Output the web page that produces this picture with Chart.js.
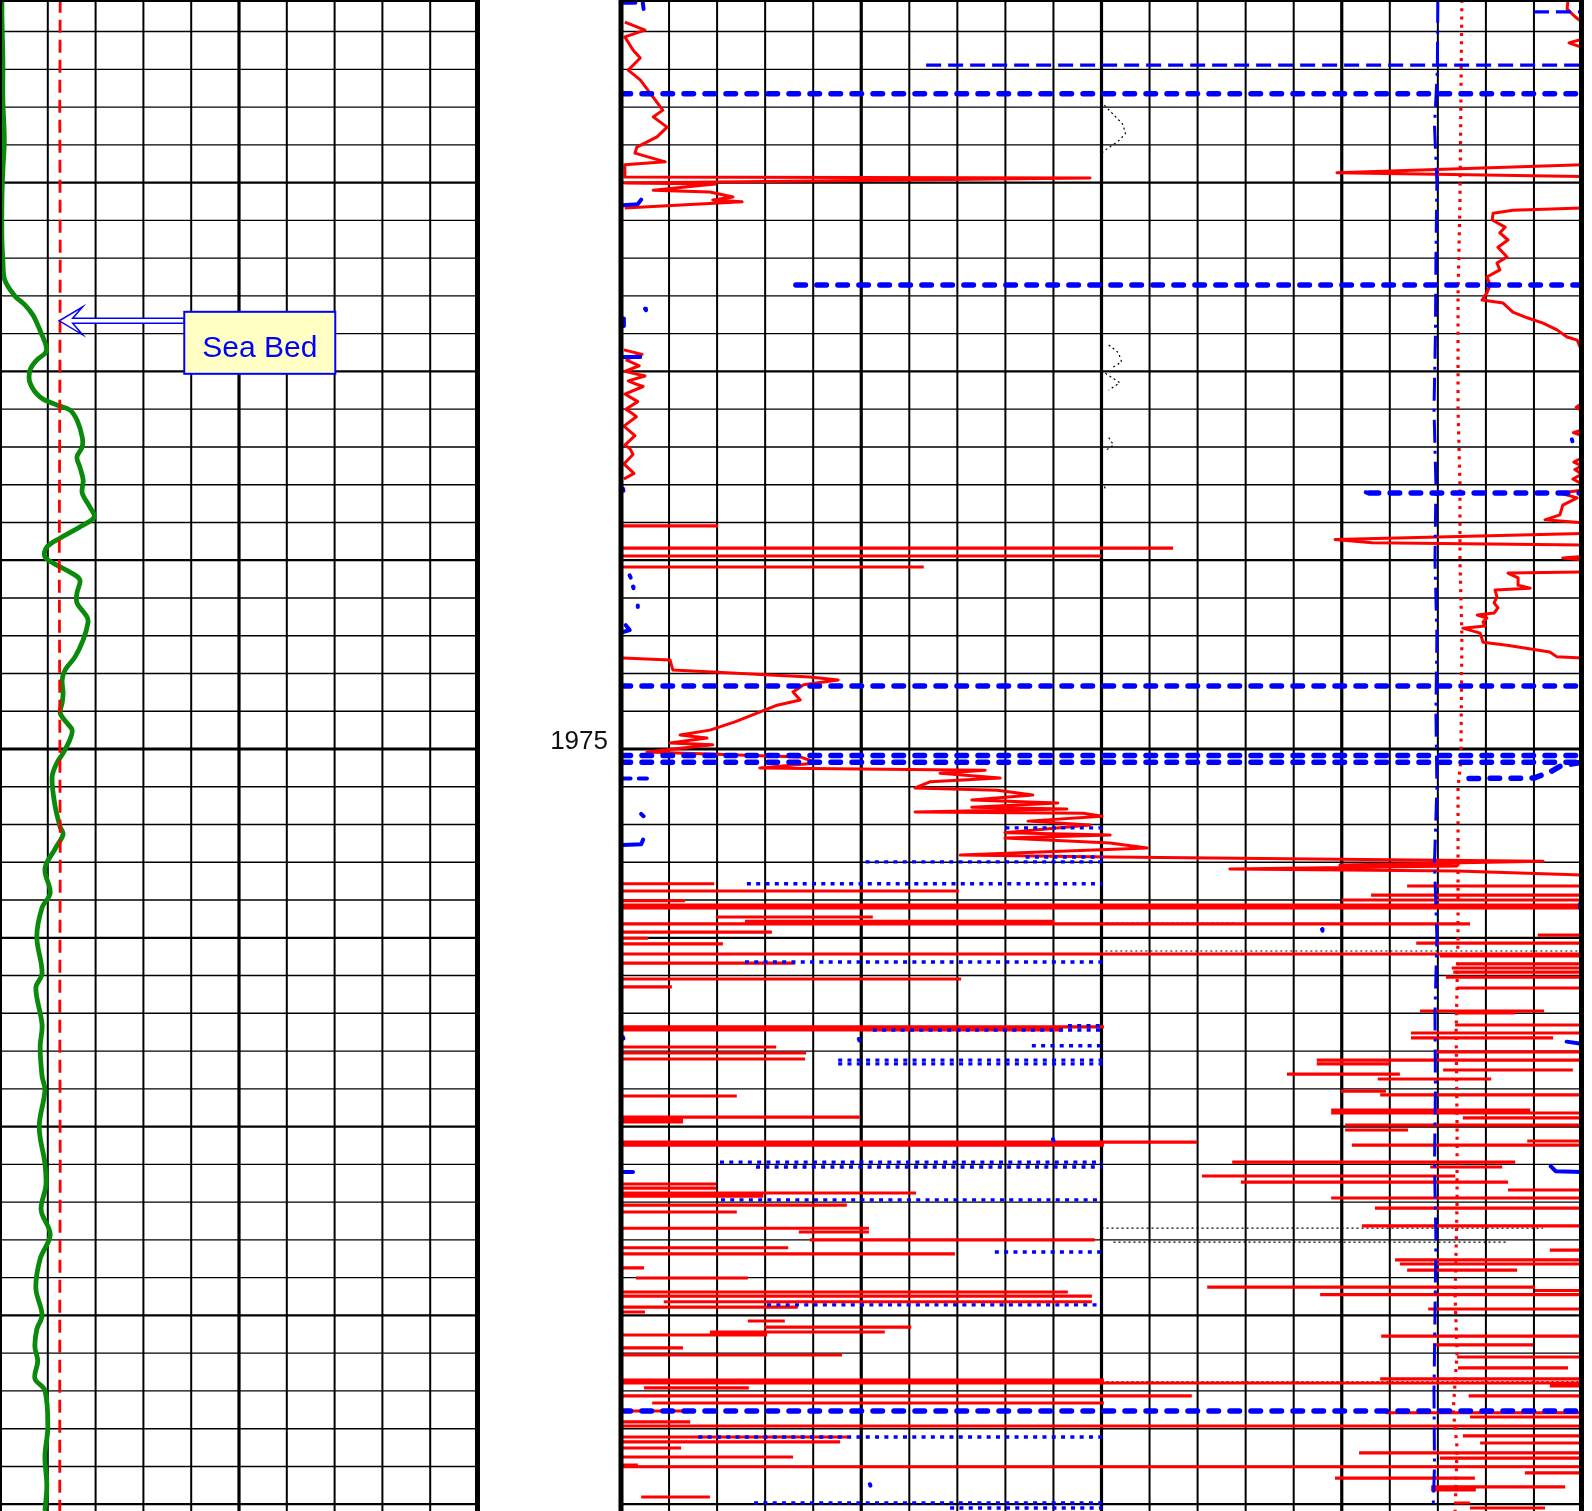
<!DOCTYPE html>
<html>
<head>
<meta charset="utf-8">
<title>Well log – 1955 to 1995 m</title>
<script src="https://cdn.jsdelivr.net/npm/chart.js@4.4.0/dist/chart.umd.min.js"></script>
<style>
  html, body { margin: 0; padding: 0; background: #fff; }
  body { width: 1592px; height: 1511px; position: relative; overflow: hidden; }
  canvas { position: absolute; top: 0; }
  #trackLeft { left: 0; }
  #trackRight { left: 480px; }
</style>
</head>
<body>
<canvas id="trackLeft" width="482" height="1511"></canvas>
<canvas id="trackRight" width="1107" height="1511"></canvas>
<script>
// ---- depth window (m) ----
const DEPTH_TOP = 1955.164;
const DEPTH_BASE = 1995.18;
const depthLabels = [1975];

// ---- left track (0–100) ----
// gamma ray: [depth, value]
const gammaRay = [
  [1955.16,0.4],[1955.56,0.4],[1956.75,0.6],[1957.81,0.6],[1958.87,0.9],[1959.67,0.6],[1960.46,0.4],
  [1961.52,0.4],[1962.05,0.6],[1962.58,1.0],[1963.00,3.1],[1963.24,5.2],[1963.51,6.9],[1963.77,7.9],
  [1964.04,8.8],[1964.30,9.6],[1964.49,9.6],[1964.70,7.7],[1964.96,6.3],[1965.31,6.3],[1965.68,8.4],
  [1965.89,11.9],[1966.02,14.6],[1966.29,16.1],[1966.74,17.2],[1967.00,17.2],[1967.27,16.1],[1967.53,16.7],
  [1967.88,17.4],[1968.22,17.2],[1968.59,18.8],[1968.86,19.7],[1969.12,16.7],[1969.41,12.6],[1969.65,9.8],
  [1969.91,9.4],[1970.13,11.9],[1970.31,14.6],[1970.52,16.7],[1970.87,16.1],[1971.13,16.1],[1971.50,18.2],
  [1971.66,18.4],[1972.11,17.4],[1972.56,15.7],[1972.91,13.6],[1973.17,13.0],[1973.52,13.2],[1973.78,13.0],
  [1974.05,12.6],[1974.31,14.0],[1974.50,15.1],[1974.76,14.6],[1975.11,13.2],[1975.37,11.9],[1975.74,10.9],
  [1976.49,11.5],[1977.07,12.6],[1977.26,13.2],[1977.65,11.5],[1978.17,9.4],[1978.81,10.5],[1979.20,8.8],
  [1979.97,7.7],[1980.94,8.8],[1981.33,7.5],[1982.30,8.8],[1982.88,8.4],[1983.66,8.8],[1984.04,9.4],
  [1985.01,8.2],[1985.98,9.4],[1986.56,9.6],[1987.21,8.6],[1987.86,10.5],[1988.50,8.4],[1989.28,7.5],
  [1989.99,8.8],[1990.37,7.7],[1990.83,7.3],[1991.21,7.9],[1991.67,7.3],[1991.99,9.4],[1992.96,10.0],
  [1993.73,9.4],[1994.51,9.8],[1995.18,9.4]
];
// reference curve (dashed red)
const leftReference = [
  [1955.16,12.6],[1958,12.5],[1962,12.6],[1966,12.5],[1970,12.4],[1974,12.5],
  [1978,12.6],[1982,12.5],[1986,12.6],[1990,12.5],[1995.18,12.5]
];
const seaBed = { depth: 1963.66, value: 12.4, text: 'Sea Bed' };

// ---- right track (0–200) ----
// resistivity, continuous stretches: [depth, value]
const resShallow = [
  [1955.75,0.8],[1955.96,5.0],[1956.14,0.8],[1956.49,2.5],[1956.70,4.0],[1957.02,1.5],[1957.28,4.0],
  [1957.55,5.6],[1957.81,7.1],[1958.08,8.7],[1958.26,6.7],[1958.53,9.6],[1958.79,7.5],[1959.06,3.3],
  [1959.22,2.9],[1959.45,9.2],[1959.53,0.8],[1959.85,0.8],[1959.88,97.6],[1960.01,0.8],[1960.04,19.6],
  [1960.20,6.7],[1960.25,18.5],[1960.38,23.3],[1960.46,19.1],[1960.51,25.2],[1960.67,0.8]
];
const resMiddle = [
  [1964.43,0.6],[1964.55,4.4],[1964.62,2.2],[1964.70,1.2],[1964.85,3.8],[1965.00,0.8],[1965.12,5.0],
  [1965.25,1.5],[1965.33,3.0],[1965.40,4.6],[1965.60,0.8],[1965.80,3.5],[1966.00,1.0],[1966.10,2.2],
  [1966.20,3.2],[1966.45,0.6],[1966.70,2.9],[1966.95,0.8],[1967.05,1.9],[1967.20,2.5],[1967.45,0.6],
  [1967.70,2.7],[1967.85,0.6]
];
const resRamp = [
  [1972.59,0.4],[1972.64,10.2],[1972.91,10.8],[1973.09,39.3],[1973.17,45.2],[1973.30,38.0],[1973.49,35.8],
  [1973.70,37.3],[1973.84,32.5],[1974.05,28.3],[1974.28,23.7],[1974.50,18.5],[1974.63,12.3],[1974.71,17.9],
  [1974.84,10.2],[1974.89,19.1],[1975.08,5.4],[1975.21,37.3],[1975.37,40.8],[1975.50,28.9],[1975.56,75.8],
  [1975.64,66.4],[1975.77,78.9],[1975.87,64.3],[1976.03,61.2],[1976.09,78.3],[1976.22,85.7],[1976.35,73.0],
  [1976.43,90.9],[1976.54,73.0],[1976.59,92.8],[1976.67,61.2],[1976.70,96.2],[1976.78,100.1],[1976.91,84.7],
  [1977.01,97.6],[1977.22,79.9],[1977.28,101.8],[1977.36,79.9],[1977.49,101.8],[1977.62,109.5],[1977.81,70.6],
  [1977.86,101.8],[1977.97,191.9],[1978.07,149.6],[1978.10,174.0],[1978.18,126.7],[1978.23,174.0],[1978.34,200]
];
const resRight = [
  [[1955.16,197.1],[1955.40,196.9],[1955.60,198.5],[1955.75,200]],
  [[1956.20,200],[1956.30,197.3],[1956.42,200]],
  [[1959.53,200],[1959.74,149.0],[1959.84,200]],
  [[1960.67,200],[1960.73,185.6],[1960.81,181.5],[1960.99,181.3],[1961.18,184.0],[1961.33,182.9],[1961.52,184.6],
   [1961.71,182.5],[1961.97,184.4],[1962.13,182.3],[1962.31,182.9],[1962.50,180.2],[1962.71,180.9],[1962.92,180.2],
   [1963.11,179.2],[1963.19,183.6],[1963.43,185.6],[1963.58,188.6],[1963.72,191.9],[1963.90,194.8],[1964.09,196.9],
   [1964.17,199.0],[1964.35,199.6],[1964.51,200]],
  [[1965.84,200],[1965.95,198.8],[1966.05,200]],
  [[1966.55,200],[1966.62,198.2],[1966.70,200]],
  [[1967.29,200],[1967.40,198.3],[1967.50,200],[1967.60,198.5],[1967.72,200],[1967.85,198.1],[1967.98,200]],
  [[1968.15,200],[1968.22,195.4],[1968.35,199.0],[1968.54,196.0],[1968.80,195.4],[1968.93,192.3],[1969.01,200]],
  [[1969.29,200],[1969.45,148.6],[1969.54,156.3],[1969.60,200]],
  [[1969.90,200],[1969.94,196.0],[1969.99,200]],
  [[1970.31,200],[1970.34,184.6],[1970.47,186.7],[1970.66,186.7],[1970.74,189.2],[1970.79,181.9],[1970.97,182.3],
   [1971.13,181.7],[1971.26,182.5],[1971.40,181.7],[1971.45,178.2],[1971.53,180.2],[1971.64,179.4],[1971.74,179.8],
   [1971.80,175.2],[1971.93,178.8],[1972.17,179.4],[1972.25,184.4],[1972.43,193.3],[1972.56,194.8],[1972.59,200]]
];
// resistivity spikes: [depth, from, to]
const resSpikes = [
  [1969.09,0,20.2],[1969.68,0,114.9],[1969.89,0,100.0],[1970.18,0,63.0],
  [1978.57,0,19.4],[1978.76,0,70.3],[1979.02,0,13.3],[1979.13,0,200],[1979.21,0,200],[1979.45,19.8,52.4],
  [1979.56,25.8,90.1],[1979.63,0,176.7],[1979.85,0,31.4],[1980.01,0,5.6],[1980.16,0,21.2],[1980.43,0,200],
  [1980.67,0,36.2],[1981.09,0,70.8],[1981.30,0,10.6],[1982.36,0,100.5],[1982.44,0,92.0],[1982.89,0,32.3],
  [1983.05,0,38.5],[1983.21,0,38.3],[1984.19,0,24.1],[1984.75,0,49.7],[1984.82,0,12.9],[1984.88,0,12.9],
  [1985.41,0,119.9],[1985.49,0,100.5],[1986.52,0,19.8],[1986.63,0,19.8],[1986.76,0,61.4],[1986.84,0,29.6],
  [1987.08,0,47.0],[1987.26,0,24.1],[1987.69,0,51.6],[1987.79,37.0,51.6],[1988.00,39.3,98.6],[1988.21,0,34.8],
  [1988.37,0,69.5],[1988.74,0,4.8],[1989.01,3.1,26.4],[1989.38,0,93.0],[1989.49,0,98.0],[1989.64,8.9,98.0],
  [1989.78,0,36.8],[1989.91,0,5.0],[1990.15,26.4,34.1],[1990.31,29.8,60.4],[1990.44,18.5,54.9],[1990.52,0,30.4],
  [1990.86,0,12.9],[1991.05,0,46.0],[1991.71,0,100.5],[1991.79,0,200],[1991.92,4.8,26.6],[1992.13,0,118.8],
  [1992.32,6.5,100.5],[1992.53,0,13.9],[1992.82,0,14.4],[1992.93,0,200],[1993.22,0,47.2],
  [1993.35,0,45.6],[1993.51,0,12.5],[1993.75,0,35.8],[1993.96,0,3.5],[1994.01,0,200],[1994.81,4.2,18.5],
  [1978.63,163.6,200],[1978.87,156.1,200],[1979.00,150.0,200],[1979.93,190.8,200],[1980.14,165.5,200],
  [1980.48,170.4,200],[1980.69,174.0,200],[1980.80,172.9,200],[1980.91,173.2,200],[1981.04,171.7,200],
  [1981.33,174.0,200],[1981.94,166.3,192.1],[1981.99,174.0,186.1],[1982.31,173.6,200],[1982.52,164.4,200],
  [1982.65,164.4,194.0],[1983.02,169.8,200],[1983.24,144.8,200],[1983.34,144.8,160.0],[1983.50,171.1,198.1],
  [1983.61,138.6,162.1],[1983.74,157.5,181.1],[1984.06,149.8,159.2],[1984.16,158.0,200],[1984.56,147.8,189.2],
  [1984.64,147.8,200],[1984.77,175.2,200],[1984.96,150.7,200],[1985.09,150.7,163.8],[1985.38,188.6,200],
  [1985.49,152.1,200],[1985.94,127.2,186.1],[1986.07,168.4,183.4],[1986.31,120.9,173.6],[1986.47,129.0,184.6],
  [1986.68,184.6,200],[1986.89,147.8,200],[1987.16,156.9,200],[1987.63,154.2,200],[1988.27,193.3,200],
  [1988.53,161.1,200],[1988.64,162.1,200],[1988.80,163.6,186.5],[1989.25,122.0,190.2],[1989.34,190.2,200],
  [1989.45,145.5,200],[1989.83,168.0,200],[1990.55,158.2,200],[1990.78,169.0,189.8],[1991.10,174.0,200],
  [1991.39,174.2,197.1],[1991.68,158.0,200],[1991.87,193.3,200],[1992.13,176.4,200],[1992.58,159.2,200],
  [1992.69,176.7,200],[1993.19,175.2,200],[1993.38,178.8,200],[1993.64,153.6,200],[1993.78,170.4,200],
  [1994.17,188.1,200],[1994.31,148.6,177.7],[1994.54,168.6,196.5],[1994.62,168.6,177.9],[1994.97,174.0,176.7],
  [1995.10,176.7,192.3]
];
// caliper (heavy blue dashed) excursions: [depth, from, to]
const caliperRuns = [
  [1957.65,0,200],[1962.71,36.4,200],[1968.22,155.7,200],[1973.33,0,200],
  [1975.17,0,200],[1975.35,0,200],[1992.53,0,200]
];
const caliperCurl = [[1975.78,176.5],[1975.77,190.0],[1975.60,193.5],[1975.45,195.5],[1975.35,200]];
const caliperLightRuns = [[1956.89,63.5,200],[1955.48,190.0,200]];
const caliperBits = [
  [[1955.24,0.4],[1955.24,3.0]], [[1955.20,4.5],[1955.40,4.7]],
  [[1960.45,4.2],[1960.57,3.5],[1960.60,0.4]],
  [[1963.34,5.0],[1963.38,5.2]], [[1963.60,0.5],[1963.80,0.6]],
  [[1964.62,0.4],[1964.62,4.0]], [[1968.10,0.4],[1968.16,0.5]],
  [[1970.40,1.8],[1970.46,2.0]], [[1970.70,2.5],[1970.74,2.6]], [[1971.20,3.5],[1971.24,3.5]],
  [[1971.72,1.0],[1971.85,1.8],[1971.90,0.4]],
  [[1975.78,0.4],[1975.78,2.0]], [[1975.78,3.7],[1975.78,5.4]],
  [[1976.72,4.2],[1976.78,4.7]], [[1977.40,4.6],[1977.52,4.2],[1977.54,0.4]],
  [[1979.10,199.6],[1979.22,199.6]], [[1979.77,145.9],[1979.81,146.0]],
  [[1982.63,0.4],[1982.67,0.5]], [[1982.68,49.5],[1982.72,49.6]], [[1982.75,196.8],[1982.80,199.5]],
  [[1985.33,89.9],[1985.37,90.0]], [[1986.20,0.4],[1986.20,2.5]],
  [[1986.05,193.5],[1986.18,194.5],[1986.20,200]],
  [[1994.47,51.8],[1994.51,51.9]], [[1966.80,197.9],[1966.85,198.0]], [[1968.20,155.0],[1968.22,155.5]]
];
// dotted blue excursions in the first half: [depth, from, to]
const densityRuns = [
  [1977.09,80.0,100.2],[1977.86,84.2,100.2],[1977.99,50.9,100.2],[1978.57,26.2,100.2],[1980.64,25.8,100.2],
  [1982.33,93.0,100.2],[1982.44,52.4,100.2],[1982.86,85.5,100.2],[1983.24,45.2,100.2],[1983.34,45.2,100.2],
  [1985.94,20.6,100.2],[1986.07,28.1,100.2],[1986.94,20.8,100.2],[1988.32,77.8,100.2],[1989.72,30.4,100.2],
  [1993.22,16.1,100.2],[1994.97,27.7,100.2],[1995.10,68.5,100.2]
];
// thin black dotted curve
const sonicRuns = [
  [1979.18,100,200],[1979.61,100,127.8],[1980.35,100.8,200],[1987.69,100,191.9],
  [1988.06,102.5,184.4],[1991.76,100,200],[1992.93,100,127.8],[1994.01,100,200]
];
const sonicBits = [
  [[1957.95,100.6],[1958.20,102.5],[1958.45,104.4],[1958.70,105.0],[1958.90,103.5],[1959.10,101.2],[1959.20,100.2]],
  [[1964.30,101.5],[1964.50,103.5],[1964.75,104.2],[1964.90,102.2]],
  [[1965.05,100.8],[1965.30,103.8],[1965.50,101.5]],
  [[1966.75,101.5],[1966.95,102.5],[1967.10,100.8]],
  [[1968.05,100.6],[1968.15,101.0]]
];
// near-constant curves
const mudTemp = [
  [1955.16,175.0],[1960.5,174.6],[1963,174.2],[1966,174.2],[1968,174.6],[1970,174.6],[1972,175.0],
  [1975.3,174.8],[1976,174.2],[1980,174.2],[1982.5,173.8],[1985,174.0],[1987,174.0],[1989.5,173.6],
  [1991,174.0],[1992.5,173.2],[1993.5,174.0],[1995.18,173.6]
];
const bitSize = [
  [1955.16,170.0],[1957,169.9],[1958.5,169.3],[1960,169.8],[1962,169.6],[1964,169.5],[1966,169.2],
  [1968,169.6],[1970,169.4],[1972,169.8],[1974,169.6],[1976,169.8],[1978,169.3],[1980,169.8],
  [1982,169.4],[1984,169.5],[1986,169.3],[1988,169.6],[1990,169.4],[1992,169.2],[1994,169.3],[1995.18,169.0]
];

// ---- helpers: turn [depth, value] lists into chart points ----
const BREAK = { x: null, y: null };
function pts(pairs) { return pairs.map(([d, v]) => ({ x: v, y: d })); }
function traces(list) {
  const out = [];
  list.forEach((t, i) => { if (i) out.push(BREAK); out.push(...pts(t)); });
  return out;
}
function runs(list) {
  const out = [];
  list.forEach(([d, a, b]) => out.push({ x: a, y: d }, { x: b, y: d }, BREAK));
  return out;
}
function line(data, color, width, dash, extra) {
  return Object.assign({
    data, showLine: true, borderColor: color, backgroundColor: color, borderWidth: width,
    borderDash: dash || [], pointRadius: 0, pointHoverRadius: 0, fill: false,
    tension: 0, spanGaps: false, borderCapStyle: 'butt', borderJoinStyle: 'round'
  }, extra || {});
}

// ---- grid / frame plugin ----
const logGrid = {
  id: 'logGrid',
  beforeDatasetsDraw(chart, args, o) {
    const { ctx, chartArea: a, scales: { x, y } } = chart;
    ctx.save();
    ctx.strokeStyle = '#000';
    for (let d = Math.ceil(y.min); d <= y.max; d++) {
      const py = y.getPixelForValue(d);
      ctx.lineWidth = d % 25 === 0 ? 3.2 : (d % 5 === 0 ? 2.2 : 1.4);
      ctx.beginPath(); ctx.moveTo(a.left, py); ctx.lineTo(a.right, py); ctx.stroke();
    }
    for (let v = x.min + o.step; v < x.max - 1e-6; v += o.step) {
      const px = x.getPixelForValue(v);
      ctx.lineWidth = v % o.major === 0 ? 3.2 : 2;
      ctx.beginPath(); ctx.moveTo(px, a.top); ctx.lineTo(px, a.bottom); ctx.stroke();
    }
    ctx.restore();
  },
  afterDatasetsDraw(chart, args, o) {
    const { ctx, chartArea: a } = chart;
    ctx.save();
    ctx.strokeStyle = '#000';
    ctx.lineWidth = o.leftEdge;
    ctx.beginPath(); ctx.moveTo(a.left + o.leftShift, a.top); ctx.lineTo(a.left + o.leftShift, a.bottom); ctx.stroke();
    ctx.lineWidth = o.rightEdge;
    ctx.beginPath(); ctx.moveTo(a.right + o.rightShift, a.top); ctx.lineTo(a.right + o.rightShift, a.bottom); ctx.stroke();
    ctx.lineWidth = 2;
    ctx.beginPath(); ctx.moveTo(a.left, a.top + 1); ctx.lineTo(a.right, a.top + 1); ctx.stroke();
    ctx.restore();
  }
};

// depth numbers beside the right track
const depthNumbers = {
  id: 'depthNumbers',
  afterDraw(chart) {
    const { ctx, chartArea: a, scales: { y } } = chart;
    ctx.save();
    ctx.font = '26px "Liberation Sans", Arial, sans-serif';
    ctx.fillStyle = '#111';
    ctx.textAlign = 'right';
    ctx.textBaseline = 'alphabetic';
    depthLabels.forEach(d => ctx.fillText(String(d), a.left - 13, y.getPixelForValue(d)));
    ctx.restore();
  }
};

// "Sea Bed" call-out pointing at the reference curve
const seaBedCallout = {
  id: 'seaBedCallout',
  afterDraw(chart) {
    const { ctx, scales: { x, y } } = chart;
    const tx = x.getPixelForValue(seaBed.value);
    const ty = y.getPixelForValue(seaBed.depth);
    const bx = tx + 125, by = ty - 9, bw = 151, bh = 62;
    ctx.save();
    ctx.strokeStyle = '#0000ff';
    ctx.fillStyle = '#ffffff';
    ctx.lineWidth = 1.5;
    ctx.lineJoin = 'miter';
    ctx.beginPath();
    ctx.moveTo(bx, ty - 2.5);
    ctx.lineTo(tx + 13.4, ty - 2.5);
    ctx.lineTo(tx + 23.4, ty - 14);
    ctx.lineTo(tx, ty);
    ctx.lineTo(tx + 23.4, ty + 14);
    ctx.lineTo(tx + 13.4, ty + 2.5);
    ctx.lineTo(bx, ty + 2.5);
    ctx.closePath();
    ctx.fill();
    ctx.stroke();
    ctx.fillStyle = '#ffffc4';
    ctx.fillRect(bx, by, bw, bh);
    ctx.lineWidth = 2;
    ctx.strokeRect(bx, by, bw, bh);
    ctx.fillStyle = '#0000ff';
    ctx.font = '30px "Liberation Sans", Arial, sans-serif';
    ctx.textAlign = 'center';
    ctx.textBaseline = 'alphabetic';
    ctx.fillText(seaBed.text, bx + bw / 2, by + 45.5);
    ctx.restore();
  }
};

function track(id, datasets, xMax, padding, grid, extra) {
  return new Chart(document.getElementById(id), {
    type: 'scatter',
    data: { datasets },
    options: {
      responsive: false,
      animation: false,
      devicePixelRatio: 1,
      events: [],
      layout: { padding },
      scales: {
        x: { type: 'linear', min: 0, max: xMax, display: false },
        y: { type: 'linear', min: DEPTH_TOP, max: DEPTH_BASE, reverse: true, display: false }
      },
      plugins: { legend: { display: false }, tooltip: { enabled: false }, logGrid: grid }
    },
    plugins: [logGrid].concat(extra)
  });
}

const RED = '#ff0000', BLUE = '#0000ff', GREEN = '#0a8a0a';

track('trackLeft', [
  line(pts(leftReference), RED, 2.8, [13, 7]),
  line(pts(gammaRay), GREEN, 4.8, [], { tension: 0.35 })
], 100, { left: 0, right: 4, top: 0, bottom: 0 },
  { step: 10, major: 50, leftEdge: 2, leftShift: 1, rightEdge: 5, rightShift: -0.5 },
  [seaBedCallout]);

track('trackRight', [
  line(runs(caliperRuns), BLUE, 5.5, [9.5, 11.5], { borderCapStyle: 'round' }),
  line(pts(caliperCurl), BLUE, 5.5, [9.5, 11.5], { borderCapStyle: 'round' }),
  line(runs(caliperLightRuns), BLUE, 3.2, [15, 7]),
  line(traces(caliperBits), BLUE, 4, [], { borderCapStyle: 'round' }),
  line(pts(bitSize), BLUE, 3, [23, 8, 3, 8]),
  line(pts(mudTemp), RED, 3.2, [3, 5.3]),
  line(runs(densityRuns), BLUE, 3.4, [4, 5.3]),
  line(pts(resShallow), RED, 3),
  line(pts(resMiddle), RED, 3),
  line(pts(resRamp), RED, 3),
  line(traces(resRight), RED, 3),
  line(runs(resSpikes), RED, 3.1),
  line(runs(sonicRuns), '#000', 1.2, [2, 3]),
  line(traces(sonicBits), '#000', 1.2, [2, 3])
], 200, { left: 141, right: 5, top: 0, bottom: 0 },
  { step: 10, major: 50, leftEdge: 5, leftShift: 0, rightEdge: 5, rightShift: -0.5 },
  [depthNumbers]);
</script>
</body>
</html>
